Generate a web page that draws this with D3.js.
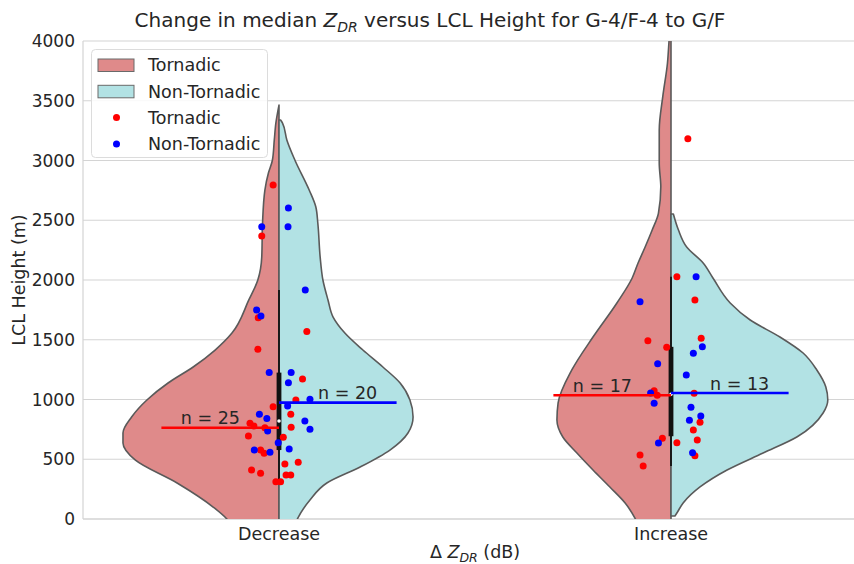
<!DOCTYPE html>
<html>
<head>
<meta charset="utf-8">
<script src="https://cdn.jsdelivr.net/npm/d3@7"></script>
<style>
  body { margin: 0; background: #fff; }
  text { font-family: "DejaVu Sans", sans-serif; fill: #262626; }
</style>
</head>
<body>
<script>
// categories and groups
const categories = ['Decrease', 'Increase'];
const yTicks = [0, 500, 1000, 1500, 2000, 2500, 3000, 3500, 4000];

// strip points: [LCL height (m), jitter (category units)]
const decTornadic = [
  [2795, -0.015], [2368, -0.044], [1685, -0.053], [1568, 0.071], [1420, -0.054],
  [1172, 0.060], [996, 0.043], [940, -0.015], [876, 0.030], [801, -0.074],
  [778, -0.064], [764, -0.036], [767, 0.031], [695, -0.078], [684, 0.011],
  [577, -0.047], [550, -0.038], [460, 0.015], [474, 0.049], [410, -0.070],
  [382, -0.047], [368, 0.018], [368, 0.030], [312, -0.008], [312, 0.004]
];
const decNonTornadic = [
  [2603, 0.024], [2446, -0.044], [2446, 0.023], [1916, 0.067], [1749, -0.057],
  [1699, -0.046], [1225, -0.025], [1225, 0.031], [1141, 0.024], [1002, 0.079],
  [946, 0.022], [876, -0.050], [842, -0.031], [820, 0.066], [751, 0.079],
  [736, -0.029], [639, -0.002], [577, -0.063], [558, -0.023], [586, 0.026]
];
const incTornadic = [
  [3183, 0.043], [2028, 0.015], [1833, 0.061], [1492, -0.059], [1512, 0.077],
  [1437, -0.011], [1074, -0.043], [1035, -0.035], [1052, 0.059], [809, 0.074],
  [745, 0.057], [675, -0.022], [639, 0.015], [661, 0.067], [530, 0.061],
  [536, -0.079], [444, -0.071]
];
const incNonTornadic = [
  [2028, 0.064], [1819, -0.079], [1442, 0.080], [1387, 0.057], [1300, -0.034],
  [1205, 0.039], [1054, -0.052], [968, -0.043], [935, 0.051], [862, 0.076],
  [826, 0.047], [636, -0.032], [555, 0.055]
];

// violin half profiles: [LCL height (m), half width (category units)]
const decTornadicShape = [
  [3464, 0], [3313, 0.008], [3172, 0.012], [3000, 0.017], [2895, 0.027], [2753, 0.036],
  [2477, 0.042], [2192, 0.044], [2000, 0.054], [1833, 0.077], [1556, 0.120],
  [1414, 0.163], [1272, 0.219], [1138, 0.283], [996, 0.337], [854, 0.376],
  [720, 0.398], [636, 0.398], [494, 0.367], [301, 0.260], [100, 0.168],
  [0, 0.133], [-150, 0.11]
];
const decNonTornadicShape = [
  [3339, 0.004], [3313, 0.009], [3172, 0.020], [3000, 0.041], [2753, 0.077],
  [2611, 0.094], [2477, 0.099], [2192, 0.105], [2000, 0.112], [1833, 0.125],
  [1690, 0.138], [1556, 0.168], [1414, 0.214], [1272, 0.265], [1138, 0.309],
  [996, 0.334], [854, 0.342], [720, 0.329], [577, 0.283], [435, 0.207],
  [301, 0.122], [159, 0.079], [8, 0.048], [-150, 0.03]
];
const incTornadicShape = [
  [4200, 0], [4000, 0.005], [3816, 0.009], [3534, 0.021], [3255, 0.030], [2976, 0.030],
  [2780, 0.026], [2560, 0.032], [2418, 0.048], [2276, 0.066], [2142, 0.084],
  [2017, 0.099], [1808, 0.138], [1523, 0.199], [1247, 0.253], [971, 0.288],
  [828, 0.291], [686, 0.276], [552, 0.240], [410, 0.199], [268, 0.156],
  [134, 0.117], [8, 0.092], [-150, 0.07]
];
const incNonTornadicShape = [
  [2552, 0.006], [2418, 0.019], [2276, 0.040], [2142, 0.082], [2017, 0.107],
  [1808, 0.151], [1665, 0.202], [1523, 0.278], [1389, 0.337], [1247, 0.372],
  [1105, 0.395], [996, 0.400], [887, 0.388], [686, 0.321], [552, 0.235],
  [410, 0.143], [268, 0.074], [134, 0.031], [50, 0.015], [25, 0.010]
];

const groups = [
  { cat: 0, side: -1, pts: decTornadic, shape: decTornadicShape, fill: '#df8a8a', dot: '#ff0000' },
  { cat: 0, side: 1, pts: decNonTornadic, shape: decNonTornadicShape, fill: '#b2e2e4', dot: '#0000ff' },
  { cat: 1, side: -1, pts: incTornadic, shape: incTornadicShape, fill: '#df8a8a', dot: '#ff0000' },
  { cat: 1, side: 1, pts: incNonTornadic, shape: incNonTornadicShape, fill: '#b2e2e4', dot: '#0000ff' }
];

const W = 854, H = 564;
const svg = d3.select('body').append('svg').attr('width', W).attr('height', H);

const x = d3.scaleLinear().domain([-0.5, 1.5]).range([83, 867]);
const y = d3.scaleLinear().domain([0, 4000]).range([519, 41]);
const unit = x(1) - x(0);

svg.append('defs').append('clipPath').attr('id', 'plot')
  .append('rect').attr('x', x(-0.5)).attr('y', y(4000)).attr('width', x(1.5) - x(-0.5)).attr('height', y(0) - y(4000));

// grid
svg.append('g').selectAll('line').data(yTicks).enter().append('line')
  .attr('x1', x(-0.5)).attr('x2', x(1.5))
  .attr('y1', d => y(d)).attr('y2', d => y(d))
  .attr('stroke', '#d4d4d4').attr('stroke-width', 1.2);

// spines
svg.append('line').attr('x1', x(-0.5)).attr('x2', x(-0.5)).attr('y1', y(0)).attr('y2', y(4000))
  .attr('stroke', '#d4d4d4').attr('stroke-width', 1.2);
svg.append('line').attr('x1', x(-0.5)).attr('x2', x(1.5)).attr('y1', y(0)).attr('y2', y(0))
  .attr('stroke', '#d4d4d4').attr('stroke-width', 1.2);

// y tick labels
svg.append('g').selectAll('text').data(yTicks).enter().append('text')
  .attr('x', 75).attr('y', d => y(d)).attr('dy', '0.36em')
  .attr('text-anchor', 'end').style('font-size', '17px')
  .text(d => d);

// category labels
svg.append('g').selectAll('text').data(categories).enter().append('text')
  .attr('x', (d, i) => x(i)).attr('y', 540)
  .attr('text-anchor', 'middle').style('font-size', '17.5px')
  .text(d => d);

const plot = svg.append('g').attr('clip-path', 'url(#plot)');

// violins
groups.forEach(g => {
  const c = x(g.cat);
  const area = d3.area()
    .curve(d3.curveMonotoneY)
    .y(d => y(d[0]))
    .x0(c)
    .x1(d => c + g.side * d[1] * unit);
  plot.append('path')
    .datum(g.shape)
    .attr('d', area)
    .attr('fill', g.fill)
    .attr('stroke', '#5a5a5a')
    .attr('stroke-width', 1.6)
    .attr('stroke-linejoin', 'round');
});

// inner box from combined data
categories.forEach((cat, i) => {
  const vals = groups.filter(g => g.cat === i)
    .flatMap(g => g.pts.map(p => p[0])).sort(d3.ascending);
  const q1 = d3.quantile(vals, 0.25), med = d3.quantile(vals, 0.5), q3 = d3.quantile(vals, 0.75);
  const lim = 1.5 * (q3 - q1);
  const lo = d3.min(vals.filter(v => v >= q1 - lim));
  const hi = d3.max(vals.filter(v => v <= q3 + lim));
  const c = x(i);
  plot.append('line').attr('x1', c).attr('x2', c).attr('y1', y(lo)).attr('y2', y(hi))
    .attr('stroke', '#111').attr('stroke-width', 1.8);
  plot.append('line').attr('x1', c).attr('x2', c).attr('y1', y(q1)).attr('y2', y(q3))
    .attr('stroke', '#111').attr('stroke-width', 4.8);
  plot.append('circle').attr('cx', c).attr('cy', y(med)).attr('r', 1.8).attr('fill', '#fff');
});

// group medians with counts
groups.forEach(g => {
  const c = x(g.cat);
  const med = d3.median(g.pts, p => p[0]);
  svg.append('line')
    .attr('x1', c).attr('x2', c + g.side * 0.3 * unit)
    .attr('y1', y(med)).attr('y2', y(med))
    .attr('stroke', g.dot).attr('stroke-width', 2.6);
  svg.append('text')
    .attr('x', c + g.side * 0.175 * unit).attr('y', y(med) - 3.5)
    .attr('text-anchor', 'middle').style('font-size', '17.5px')
    .text('n = ' + g.pts.length);
});

// strip points
groups.forEach(g => {
  plot.append('g').selectAll('circle').data(g.pts).enter().append('circle')
    .attr('cx', d => x(g.cat + d[1]))
    .attr('cy', d => y(d[0]))
    .attr('r', 3.5)
    .attr('fill', g.dot);
});

// title
const title = svg.append('text').attr('x', 430).attr('y', 27)
  .attr('text-anchor', 'middle').style('font-size', '20px');
title.append('tspan').text('Change in median ');
title.append('tspan').style('font-style', 'italic').text('Z');
title.append('tspan').style('font-style', 'italic').style('font-size', '14px').attr('dy', 4.5).text('DR');
title.append('tspan').attr('dy', -4.5).text(' versus LCL Height for G-4/F-4 to G/F');

// x label
const xl = svg.append('text').attr('x', x(0.5)).attr('y', 558)
  .attr('text-anchor', 'middle').style('font-size', '17.5px');
xl.append('tspan').text('Δ ');
xl.append('tspan').style('font-style', 'italic').text('Z');
xl.append('tspan').style('font-style', 'italic').style('font-size', '12.5px').attr('dy', 4).text('DR');
xl.append('tspan').attr('dy', -4).text(' (dB)');

// y label
svg.append('text').attr('transform', 'translate(25,280) rotate(-90)')
  .attr('text-anchor', 'middle').style('font-size', '17.5px')
  .text('LCL Height (m)');

// legend
const legendItems = [
  { label: 'Tornadic', type: 'patch', color: '#df8a8a' },
  { label: 'Non-Tornadic', type: 'patch', color: '#b2e2e4' },
  { label: 'Tornadic', type: 'dot', color: '#ff0000' },
  { label: 'Non-Tornadic', type: 'dot', color: '#0000ff' }
];
const lg = svg.append('g');
lg.append('rect').attr('x', 91.5).attr('y', 49.5).attr('width', 176).attr('height', 108).attr('rx', 4)
  .attr('fill', '#fff').attr('fill-opacity', 0.85).attr('stroke', '#dcdcdc');
legendItems.forEach((d, i) => {
  const cy = 65 + i * 26.3;
  if (d.type === 'patch') {
    lg.append('rect').attr('x', 98).attr('y', cy - 6).attr('width', 36).attr('height', 12.5)
      .attr('fill', d.color).attr('stroke', '#6a6a6a').attr('stroke-width', 1);
  } else {
    lg.append('circle').attr('cx', 116.5).attr('cy', cy).attr('r', 3.5).attr('fill', d.color);
  }
  lg.append('text').attr('x', 148).attr('y', cy).attr('dy', '0.36em')
    .style('font-size', '17.5px').text(d.label);
});
</script>
</body>
</html>
